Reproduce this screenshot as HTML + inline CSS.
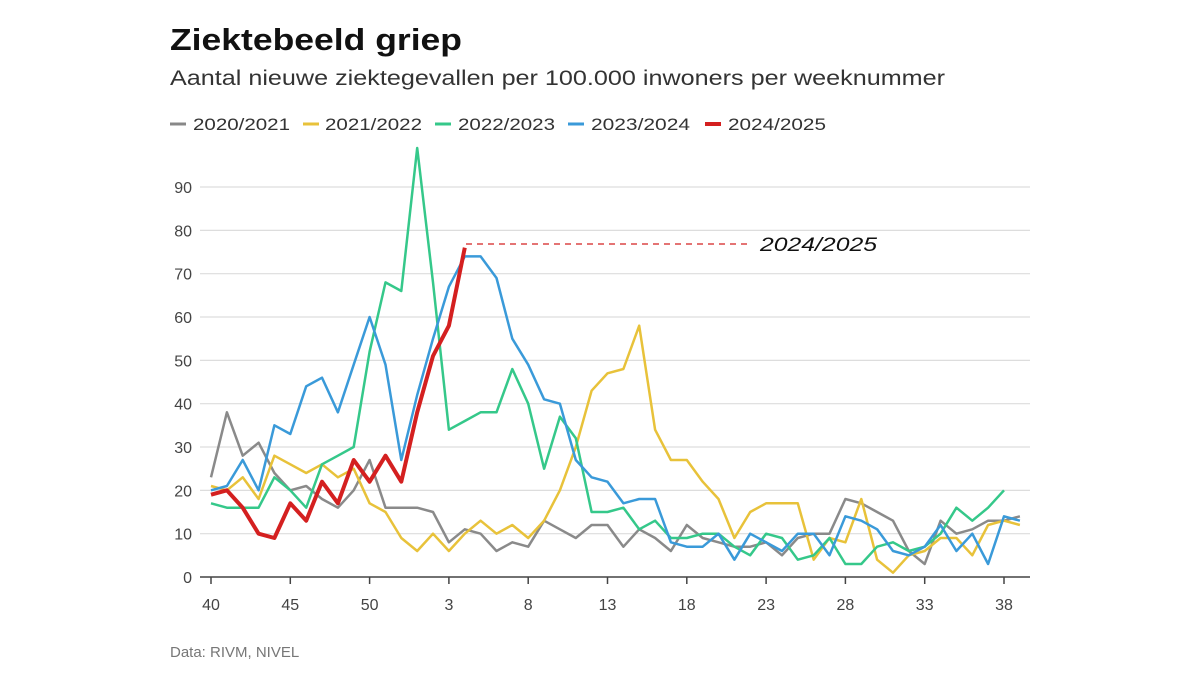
<!DOCTYPE html>
<html><head><meta charset="utf-8"><style>
body{margin:0;background:#fff;font-family:"Liberation Sans",sans-serif}
</style></head><body>
<svg width="1200" height="675" xmlns="http://www.w3.org/2000/svg" font-family="Liberation Sans, sans-serif">
<rect width="1200" height="675" fill="#fff"/>
<text x="170" y="50" font-size="31" font-weight="bold" fill="#111" textLength="292" lengthAdjust="spacingAndGlyphs">Ziektebeeld griep</text>
<text x="170" y="85" font-size="21" fill="#333" textLength="775" lengthAdjust="spacingAndGlyphs">Aantal nieuwe ziektegevallen per 100.000 inwoners per weeknummer</text>
<g font-size="17" fill="#333">
<line x1="170" y1="124" x2="186" y2="124" stroke="#888" stroke-width="3"/><text x="193" y="130" textLength="97" lengthAdjust="spacingAndGlyphs">2020/2021</text>
<line x1="303" y1="124" x2="319" y2="124" stroke="#e8c23a" stroke-width="3"/><text x="325" y="130" textLength="97" lengthAdjust="spacingAndGlyphs">2021/2022</text>
<line x1="435" y1="124" x2="451" y2="124" stroke="#35c88a" stroke-width="3"/><text x="458" y="130" textLength="97" lengthAdjust="spacingAndGlyphs">2022/2023</text>
<line x1="568" y1="124" x2="584" y2="124" stroke="#3a9ad9" stroke-width="3"/><text x="591" y="130" textLength="99" lengthAdjust="spacingAndGlyphs">2023/2024</text>
<line x1="705" y1="124" x2="721" y2="124" stroke="#d42020" stroke-width="4"/><text x="728" y="130" textLength="98" lengthAdjust="spacingAndGlyphs">2024/2025</text>
</g>
<g id="grid" stroke="#ddd" stroke-width="1.2"></g>
<g id="ylab" font-size="16" fill="#444" text-anchor="end"></g>
<line x1="200" y1="577" x2="1030" y2="577" stroke="#444" stroke-width="1.5"/>
<g id="xt" stroke="#444" stroke-width="1.5"></g>
<g id="xlab" font-size="16" fill="#444" text-anchor="middle"></g>
<g id="series" fill="none" stroke-linejoin="round"></g>
<line x1="466" y1="244" x2="752" y2="244" stroke="#d42020" stroke-width="1.2" stroke-dasharray="6,5"/>
<text x="760" y="251" font-size="19" font-style="italic" fill="#111" textLength="117" lengthAdjust="spacingAndGlyphs">2024/2025</text>
<text x="170" y="657" font-size="15" fill="#777">Data: RIVM, NIVEL</text>
</svg>
<script>
const NS="http://www.w3.org/2000/svg";
function el(p,t,a,txt){const e=document.createElementNS(NS,t);for(const k in a)e.setAttribute(k,a[k]);if(txt!=null)e.textContent=txt;document.getElementById(p).appendChild(e);}
const Y=v=>577-v*4.333, X=i=>211+i*15.86;
for(let v=10;v<=90;v+=10)el("grid","line",{x1:200,x2:1030,y1:Y(v),y2:Y(v)});
for(let v=0;v<=90;v+=10)el("ylab","text",{x:192,y:Y(v)+6},v);
const labs=[40,45,50,3,8,13,18,23,28,33,38];
labs.forEach((l,k)=>{const x=X(k*5);el("xt","line",{x1:x,x2:x,y1:577,y2:584});el("xlab","text",{x:x,y:610},l);});
const S=[
["#8a8a8a",2.5,[23,38,28,31,24,20,21,18,16,20,27,16,16,16,15,8,11,10,6,8,7,13,11,9,12,12,7,11,9,6,12,9,8,7,7,8,5,9,10,10,18,17,15,13,6,3,13,10,11,13,13,14]],
["#e8c23a",2.5,[21,20,23,18,28,26,24,26,23,25,17,15,9,6,10,6,10,13,10,12,9,13,20,30,43,47,48,58,34,27,27,22,18,9,15,17,17,17,4,9,8,18,4,1,5,6,9,9,5,12,13,12]],
["#35c88a",2.5,[17,16,16,16,23,20,16,26,28,30,52,68,66,99,68,34,36,38,38,48,40,25,37,32,15,15,16,11,13,9,9,10,10,7,5,10,9,4,5,9,3,3,7,8,6,7,10,16,13,16,20]],
["#3a9ad9",2.5,[20,21,27,20,35,33,44,46,38,49,60,49,27,42,55,67,74,74,69,55,49,41,40,27,23,22,17,18,18,8,7,7,10,4,10,8,6,10,10,5,14,13,11,6,5,7,12,6,10,3,14,13]],
["#d42020",4,[19,20,16,10,9,17,13,22,17,27,22,28,22,38,51,58,76]]];
S.forEach(([c,w,d])=>{if(d.length>52)d=d.slice(0,52);el("series","polyline",{stroke:c,"stroke-width":w,points:d.map((v,i)=>X(i).toFixed(1)+","+Y(v).toFixed(1)).join(" ")});});
</script>
</body></html>
